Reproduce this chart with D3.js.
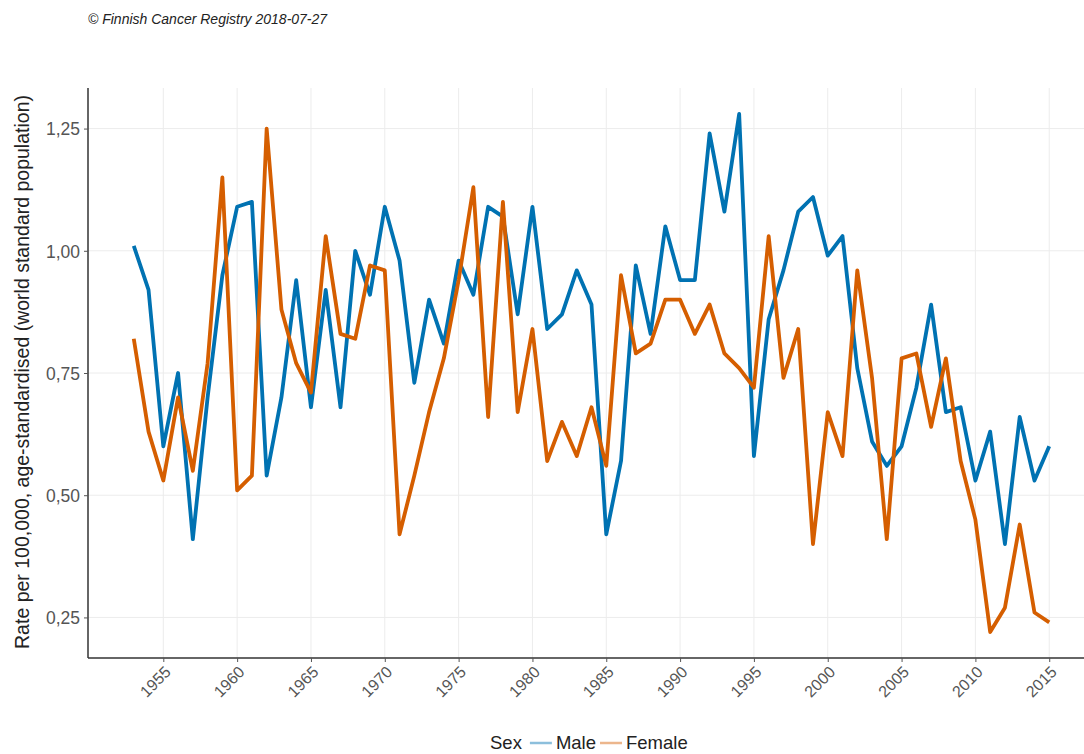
<!DOCTYPE html>
<html>
<head>
<meta charset="utf-8">
<script src="https://cdn.jsdelivr.net/npm/d3@7/dist/d3.min.js"></script>
<style>
  html, body { margin: 0; padding: 0; background: #fff; }
  svg { display: block; font-family: "Liberation Sans", Arial, sans-serif; }
</style>
</head>
<body>
<svg id="chart" width="1084" height="754"></svg>
<script>
// Incidence, rate per 100,000 (age-standardised, world standard population)
const years = d3.range(1953, 2016);
const male = [
  1.01, 0.92, 0.60, 0.75, 0.41, 0.70, 0.95, 1.09, 1.10, 0.54,
  0.70, 0.94, 0.68, 0.92, 0.68, 1.00, 0.91, 1.09, 0.98, 0.73,
  0.90, 0.81, 0.98, 0.91, 1.09, 1.07, 0.87, 1.09, 0.84, 0.87,
  0.96, 0.89, 0.42, 0.57, 0.97, 0.83, 1.05, 0.94, 0.94, 1.24,
  1.08, 1.28, 0.58, 0.86, 0.96, 1.08, 1.11, 0.99, 1.03, 0.76,
  0.61, 0.56, 0.60, 0.72, 0.89, 0.67, 0.68, 0.53, 0.63, 0.40,
  0.66, 0.53, 0.60
];
const female = [
  0.82, 0.63, 0.53, 0.70, 0.55, 0.77, 1.15, 0.51, 0.54, 1.25,
  0.88, 0.77, 0.71, 1.03, 0.83, 0.82, 0.97, 0.96, 0.42, 0.54,
  0.67, 0.78, 0.94, 1.13, 0.66, 1.10, 0.67, 0.84, 0.57, 0.65,
  0.58, 0.68, 0.56, 0.95, 0.79, 0.81, 0.90, 0.90, 0.83, 0.89,
  0.79, 0.76, 0.72, 1.03, 0.74, 0.84, 0.40, 0.67, 0.58, 0.96,
  0.74, 0.41, 0.78, 0.79, 0.64, 0.78, 0.57, 0.45, 0.22, 0.27,
  0.44, 0.26, 0.24
];
const seriesNames = ["Male", "Female"];
const seriesColors = ["#0072B2", "#D55E00"];
const yTicks = [0.25, 0.50, 0.75, 1.00, 1.25];
const xTicks = d3.range(1955, 2016, 5);

const svg = d3.select("#chart");
const pLeft = 88, pRight = 1095, pTop = 88, pBottom = 658;

const x = d3.scaleLinear().domain([1949.9, 2018.1]).range([pLeft, pRight]);
const y = d3.scaleLinear().domain([0.167, 1.333]).range([pBottom, pTop]);

const fmt = v => d3.format(".2f")(v).replace(".", ",");

// grid
const grid = svg.append("g");
grid.selectAll("line.gy").data(yTicks).join("line").attr("class", "gy")
  .attr("x1", pLeft).attr("x2", pRight)
  .attr("y1", d => y(d)).attr("y2", d => y(d))
  .attr("stroke", "#ececec").attr("stroke-width", 1);
grid.selectAll("line.gx").data(xTicks).join("line").attr("class", "gx")
  .attr("x1", d => x(d)).attr("x2", d => x(d))
  .attr("y1", pTop).attr("y2", pBottom)
  .attr("stroke", "#ececec").attr("stroke-width", 1);

// series lines
const line = d3.line().x((d, i) => x(years[i])).y(d => y(d));
[male, female].forEach((vals, k) => {
  svg.append("path").datum(vals)
    .attr("d", line)
    .attr("fill", "none")
    .attr("stroke", seriesColors[k])
    .attr("stroke-width", 3.8)
    .attr("stroke-linejoin", "round");
});

// axes
const yAxis = svg.append("g").attr("transform", `translate(${pLeft},0)`)
  .call(d3.axisLeft(y).tickValues(yTicks).tickFormat(fmt).tickSize(4).tickPadding(4));
const xAxis = svg.append("g").attr("transform", `translate(0,${pBottom})`)
  .call(d3.axisBottom(x).tickValues(xTicks).tickFormat(d3.format("d")).tickSize(4));

[yAxis, xAxis].forEach(a => {
  a.select(".domain").attr("stroke", "#333").attr("stroke-width", 1.5);
  a.selectAll(".tick line").attr("stroke", "#555");
  a.selectAll(".tick text").attr("fill", "#555");
});
yAxis.select(".domain").attr("d", `M0,${pTop}V${pBottom}`);
xAxis.select(".domain").attr("d", `M${pLeft},0H1084`);
yAxis.selectAll(".tick text").style("font-size", "17.5px").attr("dy", "0.36em");

xAxis.selectAll(".tick text")
  .attr("text-anchor", "end")
  .attr("dy", null)
  .attr("y", 0)
  .attr("transform", "translate(8,15) rotate(-45)")
  .style("font-size", "16px");

// y axis title
svg.append("text")
  .attr("transform", `translate(29,${(pTop + pBottom) / 2 - 1}) rotate(-90)`)
  .attr("text-anchor", "middle")
  .attr("fill", "#222")
  .style("font-size", "19.5px")
  .text("Rate per 100,000, age-standardised (world standard population)");

// caption
svg.append("text")
  .attr("x", 88).attr("y", 24)
  .attr("fill", "#222")
  .style("font-size", "14px")
  .style("font-style", "italic")
  .text("\u00A9 Finnish Cancer Registry 2018-07-27");

// legend
const leg = svg.append("g").attr("transform", "translate(490,743)");
const legTitle = leg.append("text").attr("x", 0).attr("y", 6)
  .attr("fill", "#222").style("font-size", "18.5px").text("Sex");
let lx = legTitle.node().getComputedTextLength() + 8;
seriesNames.forEach((name, k) => {
  leg.append("line")
    .attr("x1", lx).attr("x2", lx + 22).attr("y1", 0).attr("y2", 0)
    .attr("stroke", seriesColors[k]).attr("stroke-opacity", 0.45)
    .attr("stroke-width", 2.5);
  const t = leg.append("text").attr("x", lx + 26).attr("y", 6)
    .attr("fill", "#222").style("font-size", "18.5px").text(name);
  lx += 26 + t.node().getComputedTextLength() + 4;
});
</script>
</body>
</html>
